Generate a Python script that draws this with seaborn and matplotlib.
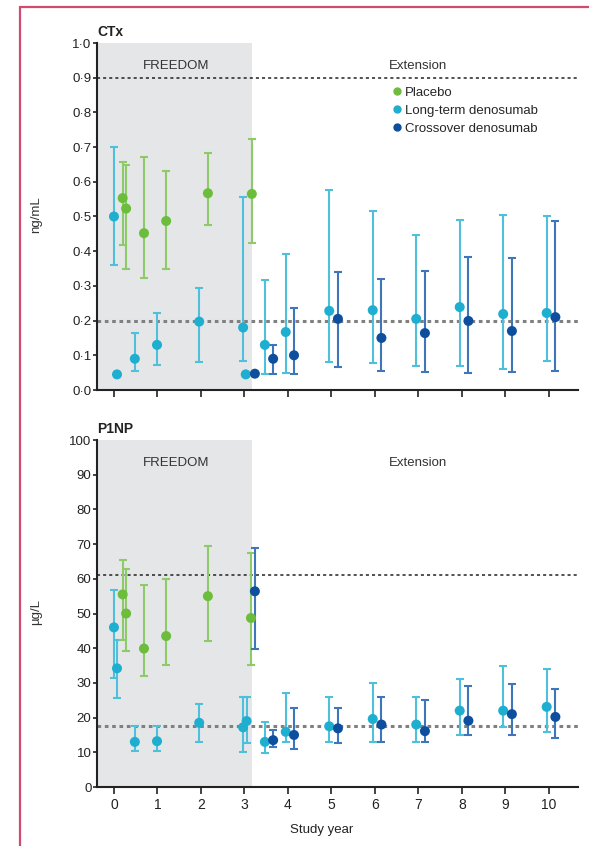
import numpy as np
import pandas as pd
import matplotlib
matplotlib.use("Agg")
import matplotlib.pyplot as plt
import seaborn as sns
from matplotlib.lines import Line2D

nan = np.nan

# ---------------- data ----------------
series_names = ["Placebo", "Long-term denosumab", "Crossover denosumab"]

# CTx (ng/mL)
ctx_pl_x = [0.2, 0.28, 0.69, 1.2, 2.16, 3.17]
ctx_pl_y = [0.553, 0.523, 0.452, 0.487, 0.567, 0.565]
ctx_pl_lo = [0.418, 0.35, 0.323, 0.35, 0.476, 0.423]
ctx_pl_hi = [0.657, 0.648, 0.672, 0.632, 0.684, 0.724]

ctx_lt_x = [0.0, 0.07, 0.48, 0.99, 1.96, 2.97, 3.03, 3.47, 3.95, 4.95, 5.95, 6.95, 7.95, 8.95, 9.95]
ctx_lt_y = [0.50, 0.045, 0.09, 0.13, 0.197, 0.18, 0.045, 0.13, 0.167, 0.228, 0.23, 0.205, 0.239, 0.219, 0.222]
ctx_lt_lo = [0.36, nan, 0.055, 0.073, 0.08, 0.085, nan, 0.045, 0.05, 0.08, 0.078, 0.069, 0.069, 0.06, 0.084]
ctx_lt_hi = [0.70, nan, 0.165, 0.222, 0.293, 0.555, nan, 0.317, 0.392, 0.575, 0.516, 0.447, 0.49, 0.504, 0.50]

ctx_cx_x = [3.24, 3.66, 4.14, 5.15, 6.15, 7.15, 8.15, 9.15, 10.15]
ctx_cx_y = [0.047, 0.09, 0.10, 0.205, 0.15, 0.164, 0.199, 0.17, 0.21]
ctx_cx_lo = [nan, 0.045, 0.045, 0.067, 0.055, 0.053, 0.048, 0.053, 0.055]
ctx_cx_hi = [nan, 0.13, 0.237, 0.34, 0.32, 0.344, 0.383, 0.38, 0.487]

# P1NP (µg/L)
p1_pl_x = [0.2, 0.28, 0.69, 1.2, 2.16, 3.15]
p1_pl_y = [55.5, 50.0, 39.9, 43.5, 55.0, 48.7]
p1_pl_lo = [42.5, 39.2, 31.9, 35.3, 42.0, 35.1]
p1_pl_hi = [65.5, 62.7, 58.1, 59.8, 69.5, 67.4]

p1_lt_x = [0.0, 0.07, 0.48, 0.99, 1.96, 2.97, 3.05, 3.47, 3.95, 4.95, 5.95, 6.95, 7.95, 8.95, 9.95]
p1_lt_y = [46.0, 34.2, 13.0, 13.2, 18.5, 17.2, 19.0, 13.0, 15.9, 17.5, 19.6, 18.0, 22.0, 22.0, 23.1]
p1_lt_lo = [31.4, 25.6, 10.4, 10.4, 13.0, 10.0, 12.6, 9.9, 13.0, 13.0, 13.0, 13.0, 15.0, 17.4, 15.9]
p1_lt_hi = [56.7, 42.3, 17.6, 17.6, 23.8, 26.0, 26.0, 18.8, 27.0, 26.0, 30.0, 26.0, 31.1, 34.9, 34.0]

p1_cx_x = [3.24, 3.66, 4.14, 5.15, 6.15, 7.15, 8.15, 9.15, 10.15]
p1_cx_y = [56.4, 13.5, 15.0, 16.9, 18.0, 16.1, 19.1, 21.0, 20.2]
p1_cx_lo = [39.9, 11.6, 10.9, 12.6, 13.0, 13.0, 15.0, 15.0, 14.0]
p1_cx_hi = [69.0, 16.4, 22.9, 22.9, 26.0, 25.0, 29.0, 29.8, 28.2]

x_ticks = list(range(0, 11))
ctx_yticks = [0.0, 0.1, 0.2, 0.3, 0.4, 0.5, 0.6, 0.7, 0.8, 0.9, 1.0]
ctx_yticklabels = ["0·0", "0·1", "0·2", "0·3", "0·4", "0·5", "0·6", "0·7", "0·8", "0·9", "1·0"]
p1_yticks = [0, 10, 20, 30, 40, 50, 60, 70, 80, 90, 100]
p1_yticklabels = ["0", "10", "20", "30", "40", "50", "60", "70", "80", "90", "100"]

ctx_ref_hi, ctx_ref_lo = 0.9, 0.2
p1_ref_hi, p1_ref_lo = 61.0, 17.5
freedom_end = 3.17

# ---------------- style ----------------
sns.set_theme(style="ticks")
plt.rcParams["font.family"] = ["Liberation Sans Narrow", "Liberation Sans", "DejaVu Sans"]

point_colors = {"Placebo": "#6cbd3c", "Long-term denosumab": "#1eaed0", "Crossover denosumab": "#0d4f9e"}
bar_colors = {"Placebo": "#8ccb67", "Long-term denosumab": "#4fc0dc", "Crossover denosumab": "#3f75bb"}


def make_df(parts):
    frames = []
    for name, x, y, lo, hi in parts:
        frames.append(pd.DataFrame({"x": x, "y": y, "lo": lo, "hi": hi, "group": name}))
    return pd.concat(frames, ignore_index=True)


df_ctx = make_df([
    ("Long-term denosumab", ctx_lt_x, ctx_lt_y, ctx_lt_lo, ctx_lt_hi),
    ("Placebo", ctx_pl_x, ctx_pl_y, ctx_pl_lo, ctx_pl_hi),
    ("Crossover denosumab", ctx_cx_x, ctx_cx_y, ctx_cx_lo, ctx_cx_hi),
])
df_p1 = make_df([
    ("Long-term denosumab", p1_lt_x, p1_lt_y, p1_lt_lo, p1_lt_hi),
    ("Placebo", p1_pl_x, p1_pl_y, p1_pl_lo, p1_pl_hi),
    ("Crossover denosumab", p1_cx_x, p1_cx_y, p1_cx_lo, p1_cx_hi),
])

fig = plt.figure(figsize=(5.89, 8.46), dpi=100)
ax1 = fig.add_axes([97 / 589, 1 - 390 / 846, 481 / 589, 347 / 846])
ax2 = fig.add_axes([97 / 589, 1 - 787 / 846, 481 / 589, 347 / 846])

xlim = (-0.39, 10.67)


def draw_panel(ax, df, ylim, yticks, yticklabels, ref_hi, ref_lo, label_y):
    ax.set_xlim(*xlim)
    ax.set_ylim(*ylim)
    ax.axvspan(xlim[0], freedom_end, ymin=0, ymax=1, color="#e5e6e8", lw=0, zorder=0)
    ax.axhline(ref_hi, color="#222222", ls=(0, (2, 2)), lw=1.1, zorder=1)
    ax.axhline(ref_lo, color="#808080", ls=(0, (1.2, 1.2)), lw=2.2, zorder=1)
    for name in ["Long-term denosumab", "Placebo", "Crossover denosumab"]:
        sub = df[(df.group == name) & df.lo.notna()]
        ax.errorbar(sub.x, sub.y, yerr=[sub.y - sub.lo, sub.hi - sub.y], fmt="none",
                    ecolor=bar_colors[name], elinewidth=1.5, capsize=2.6, capthick=1.5, zorder=2)
    sns.scatterplot(data=df, x="x", y="y", hue="group", palette=point_colors,
                    hue_order=series_names, s=52, linewidth=0, ax=ax, zorder=3, legend=False)
    ax.set_yticks(yticks)
    ax.set_yticklabels(yticklabels)
    ax.set_xticks(x_ticks)
    ax.tick_params(axis="y", length=3, width=1.2, labelsize=9.5, pad=1, colors="#222222")
    ax.tick_params(axis="x", length=5, width=1.2, labelsize=10, pad=3, colors="#222222")
    for s in ["top", "right"]:
        ax.spines[s].set_visible(False)
    for s in ["left", "bottom"]:
        ax.spines[s].set_linewidth(1.5)
        ax.spines[s].set_color("#222222")
    ax.set_xlabel("")
    ax.text(1.43, label_y, "FREEDOM", ha="center", va="center", fontsize=9.5, color="#333333")
    ax.text(6.99, label_y, "Extension", ha="center", va="center", fontsize=9.5, color="#333333")


draw_panel(ax1, df_ctx, (0, 1.0), ctx_yticks, ctx_yticklabels, ctx_ref_hi, ctx_ref_lo, 0.935)
draw_panel(ax2, df_p1, (0, 100), p1_yticks, p1_yticklabels, p1_ref_hi, p1_ref_lo, 93.3)

ax1.set_xticklabels([])
ax2.set_xticklabels([str(t) for t in x_ticks])

ax1.set_ylabel("ng/mL", fontsize=9.5, color="#333333")
ax1.yaxis.set_label_coords(-0.114, 0.504)
ax2.set_ylabel("µg/L", fontsize=9.5, color="#333333")
ax2.yaxis.set_label_coords(-0.114, 0.504)
ax2.set_xlabel("Study year", fontsize=9.5, color="#222222")
ax2.xaxis.set_label_coords(0.468, -0.108)

ax1.text(0.0, 1.012, "CTx", transform=ax1.transAxes, ha="left", va="bottom",
         fontsize=10, fontweight="bold", color="#222222")
ax2.text(0.0, 1.012, "P1NP", transform=ax2.transAxes, ha="left", va="bottom",
         fontsize=10, fontweight="bold", color="#222222")

handles = [Line2D([0], [0], marker="o", ls="none", color=point_colors[n], markersize=5, label=n)
           for n in series_names]
ax1.legend(handles=handles, loc="upper left", bbox_to_anchor=(0.6, 0.89), frameon=False,
           fontsize=9.5, handletextpad=0.05, labelspacing=0.45, borderaxespad=0, handlelength=1.0)

# decorative page frame
fig.add_artist(Line2D([20 / 589, 20 / 589], [0, 1 - 7 / 846], transform=fig.transFigure,
                      color="#d24a70", lw=1.6))
fig.add_artist(Line2D([20 / 589, 1.0], [1 - 7 / 846, 1 - 7 / 846], transform=fig.transFigure,
                      color="#d24a70", lw=1.6))

fig.savefig("out.png", dpi=100)
